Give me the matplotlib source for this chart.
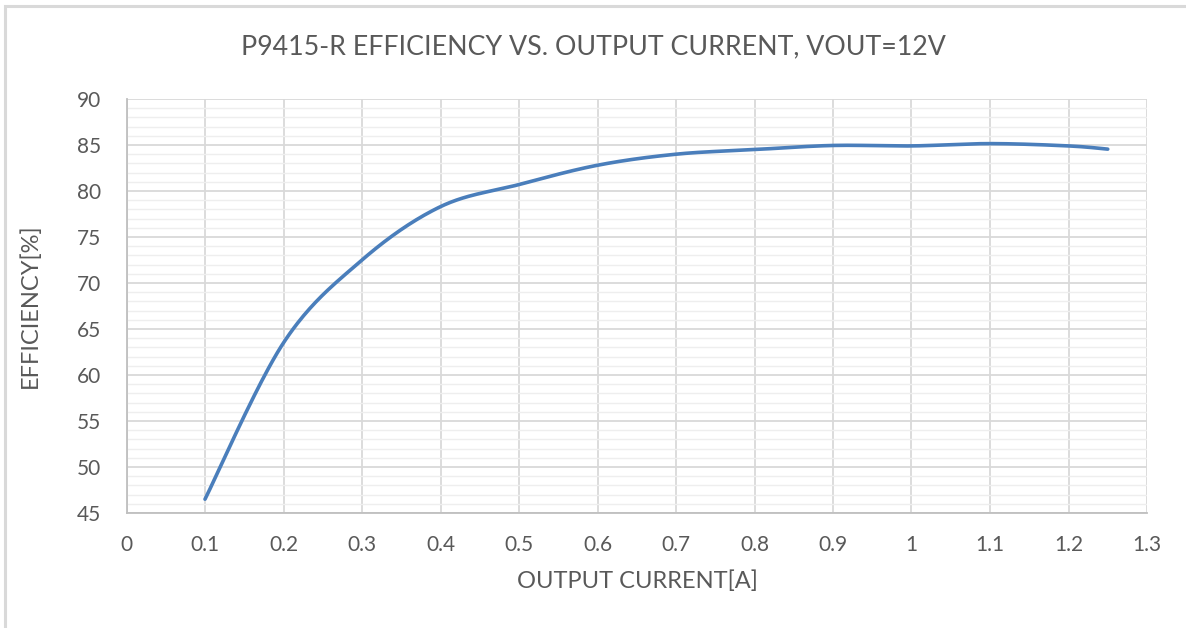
import numpy as np
import matplotlib.pyplot as plt
from matplotlib.patches import Rectangle
from matplotlib.ticker import MultipleLocator

plt.rcParams['font.family'] = ['Lato', 'DejaVu Sans']

# Data
current = [0.1, 0.2, 0.3, 0.4, 0.5, 0.6, 0.7, 0.8, 0.9, 1.0, 1.1, 1.2, 1.25]
efficiency = [46.5, 63.5, 72.5, 78.3, 80.7, 82.8, 84.0, 84.5, 84.95, 84.9, 85.15, 84.9, 84.55]

title = 'P9415-R EFFICIENCY VS. OUTPUT CURRENT, VOUT=12V'
xlabel = 'OUTPUT CURRENT[A]'
ylabel = 'EFFICIENCY[%]'
xticklabels = ['0', '0.1', '0.2', '0.3', '0.4', '0.5', '0.6', '0.7', '0.8',
               '0.9', '1', '1.1', '1.2', '1.3']

text_col = '#595959'
line_col = '#4a7ebb'


def excel_smooth(x, y, n=40):
    # Catmull-Rom style bezier, like Excel's "smoothed line"
    x = np.asarray(x, float)
    y = np.asarray(y, float)
    px = np.concatenate([[x[0]], x, [x[-1]]])
    py = np.concatenate([[y[0]], y, [y[-1]]])
    t = np.linspace(0, 1, n)[:, None]
    xs, ys = [], []
    for i in range(1, len(px) - 2):
        p0 = np.array([px[i], py[i]])
        p3 = np.array([px[i + 1], py[i + 1]])
        c1 = p0 + (p3 - np.array([px[i - 1], py[i - 1]])) / 6
        c2 = p3 - (np.array([px[i + 2], py[i + 2]]) - p0) / 6
        seg = ((1 - t) ** 3) * p0 + 3 * ((1 - t) ** 2) * t * c1 + 3 * (1 - t) * t ** 2 * c2 + t ** 3 * p3
        xs.append(seg[:, 0])
        ys.append(seg[:, 1])
    return np.concatenate(xs), np.concatenate(ys)


fig = plt.figure(figsize=(11.86, 6.28), dpi=100)
ax = fig.add_axes([126.5 / 1186, 115 / 628, (1147 - 126.5) / 1186, (513 - 99) / 628])

# chart border (cut off at right/bottom like the screenshot)
fig.patches.append(Rectangle((5 / 1186, -0.05), 1.2, (628 - 6) / 628 + 0.05,
                             transform=fig.transFigure, fill=False,
                             edgecolor='#d9d9d9', linewidth=2.2))

xs, ys = excel_smooth(current, efficiency)
ax.plot(xs, ys, color=line_col, linewidth=2.6, solid_capstyle='round', zorder=3)

ax.set_xlim(0, 1.3)
ax.set_ylim(45, 90)
ax.yaxis.set_major_locator(MultipleLocator(5))
ax.yaxis.set_minor_locator(MultipleLocator(1))
ax.set_xticks(np.arange(0, 1.31, 0.1))
ax.set_xticklabels(xticklabels)

ax.grid(which='major', color='#d9d9d9', linewidth=1.3)
ax.grid(which='minor', axis='y', color='#eeeeee', linewidth=1.0)
ax.set_axisbelow(True)

for s in ['top', 'right']:
    ax.spines[s].set_visible(False)
for s in ['left', 'bottom']:
    ax.spines[s].set_color('#bfbfbf')
    ax.spines[s].set_linewidth(1.3)

ax.tick_params(which='both', length=0, labelsize=15, labelcolor=text_col)
ax.tick_params(axis='x', pad=16)
ax.tick_params(axis='y', pad=18)

fig.text(0.5, 1 - 47 / 628, title, ha='center', va='center',
         fontsize=19.3, color=text_col)
fig.text(637 / 1186, 1 - 581 / 628, xlabel, ha='center', va='center',
         fontsize=17, color=text_col)
fig.text(30 / 1186, 1 - 306 / 628, ylabel, ha='center', va='center',
         rotation=90, fontsize=17, color=text_col)

fig.savefig('out.png', dpi=100)
